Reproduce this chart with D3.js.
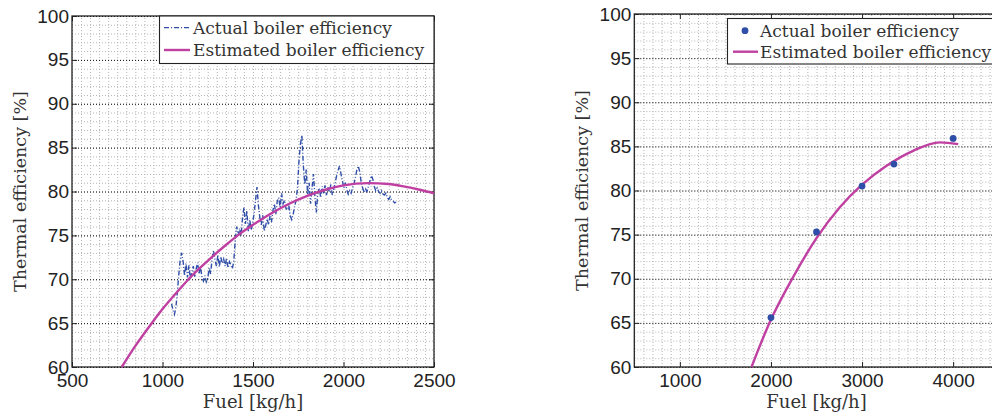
<!DOCTYPE html>
<html>
<head>
<meta charset="utf-8">
<title>Boiler efficiency</title>
<style>
body { margin: 0; background: #fff; overflow: hidden; }
svg { display: block; }
.axis text { font-family: 'Liberation Sans', Arial, sans-serif; font-size: 19px; fill: #222; }
.axis .domain { display: none; }
.axis line { stroke: #222; }
.title, .legend text { font-family: 'DejaVu Serif', serif; fill: #333; }
.minor line { stroke: #b5b5b5; stroke-dasharray: 1,2; }
.major line { stroke: #111; stroke-dasharray: 1,2; }
.grid .domain { display: none; }
</style>
<script src="https://d3js.org/d3.v7.min.js"></script>
</head>
<body>
<div id="chart"></div>
<script>
// ******* Data: left panel (measured series + fitted curve) *******
const actualFuel = [1050,1058,1066,1074,1082,1090,1098,1106,1114,1122,1130,1138,1146,1154,1162,1170,1178,1186,1194,1202,
  1210,1218,1226,1234,1242,1250,1258,1266,1274,1282,1290,1298,1306,1314,1322,1330,1338,1346,1354,1362,
  1370,1378,1386,1394,1402,1410,1418,1426,1434,1442,1450,1458,1466,1474,1482,1490,1498,1506,1514,1522,
  1530,1538,1546,1554,1562,1570,1578,1586,1594,1602,1610,1618,1626,1634,1642,1650,1658,1666,1674,1682,
  1690,1698,1706,1714,1722,1730,1738,1746,1754,1762,1770,1778,1786,1794,1802,1810,1818,1826,1834,1842,
  1850,1858,1866,1874,1882,1890,1898,1906,1914,1922,1930,1938,1946,1954,1962,1970,1978,1986,1994,2002,
  2010,2018,2026,2034,2042,2050,2058,2066,2074,2082,2090,2098,2106,2114,2122,2130,2138,2146,2154,2162,
  2170,2178,2186,2194,2202,2210,2218,2226,2234,2242,2250,2258,2266,2274,2282,2290];
const actualEff = [67.2,66.5,66.0,66.8,68.5,70.5,72.3,73.0,72.0,70.4,71.8,70.2,71.6,70.0,70.8,71.5,70.3,71.2,71.9,70.6,
  71.5,70.2,69.8,70.4,69.7,70.1,71.3,70.6,72.4,73.3,72.2,71.5,72.8,71.4,72.6,71.8,72.3,71.5,72.4,71.3,
  72.0,71.6,71.2,72.1,74.5,76.0,75.0,75.8,74.9,77.0,78.2,76.3,77.8,75.4,76.8,75.6,76.4,77.5,79.0,80.5,
  78.4,77.0,76.2,77.3,75.5,76.1,76.9,76.2,77.2,76.5,77.8,78.6,77.4,78.9,79.3,78.2,79.8,78.6,79.0,78.1,
  77.9,78.4,77.2,76.8,77.4,78.3,79.0,80.5,83.5,85.4,86.4,83.0,80.8,82.5,79.6,81.0,78.6,80.4,82.0,79.4,
  77.6,79.8,80.4,79.3,80.6,79.8,80.7,79.6,80.5,79.9,80.8,79.6,80.3,81.0,81.8,82.4,82.9,82.0,81.2,80.4,
  81.0,80.2,79.7,80.1,79.8,80.4,80.9,81.6,82.5,82.9,82.2,81.0,80.4,79.9,80.3,80.0,80.6,81.2,81.8,81.4,
  80.6,80.1,80.4,80.0,79.8,80.1,79.7,79.6,79.8,79.3,79.1,79.4,79.0,78.9,78.7,78.8];
const fitFuelL = [775,850,941,1000,1100,1153,1250,1350,1429,1500,1600,1700,1800,1900,2000,2137,2250,2339,2420,2500];
const fitEffL  = [60.0,62.4,65.0,66.6,69.0,70.2,72.1,73.9,75.2,76.2,77.5,78.6,79.5,80.2,80.7,80.95,80.85,80.55,80.2,79.8];

// ******* Data: right panel *******
const pointFuel = [2000,2500,3000,3350,4000];
const pointEff  = [65.6,75.3,80.5,83.0,85.9];
const fitFuelR = [1787,1988,2244,2500,2756,2994,3269,3561,3854,4055];
const fitEffR  = [60.0,65.1,70.2,74.6,78.1,80.6,82.8,84.5,85.45,85.25];

// ******* Ticks *******
const yTicks = [60,65,70,75,80,85,90,95,100];
const xTicksL = [500,1000,1500,2000,2500];
const xTicksR = [1000,2000,3000,4000];
const legendLabels = ["Actual boiler efficiency", "Estimated boiler efficiency"];

const blue = "#2f4ea8", magenta = "#c040a2";

const svg = d3.select("#chart").append("svg")
    .attr("width", 992)
    .attr("height", 417);

function panel(o) {
  const x = d3.scaleLinear().domain(o.xDomain).range([o.left, o.right]);
  const y = d3.scaleLinear().domain([60, 100]).range([o.bottom, o.top]);
  const g = svg.append("g");
  const w = o.right - o.left, h = o.bottom - o.top;

  // minor grid
  g.append("g").attr("class", "grid minor")
    .attr("transform", `translate(0,${o.bottom})`)
    .call(d3.axisBottom(x).tickValues(d3.range(o.xDomain[0], o.xDomain[1] + 1, o.xMinor)).tickSize(-h).tickFormat(""));
  g.append("g").attr("class", "grid minor")
    .attr("transform", `translate(${o.left},0)`)
    .call(d3.axisLeft(y).tickValues(d3.range(60, 101, 1)).tickSize(-w).tickFormat(""));
  // major horizontal grid
  g.append("g").attr("class", "grid major")
    .attr("transform", `translate(${o.left},0)`)
    .call(d3.axisLeft(y).tickValues(yTicks).tickSize(-w).tickFormat(""));

  // axes with inward ticks
  g.append("g").attr("class", "axis")
    .attr("transform", `translate(0,${o.bottom})`)
    .call(d3.axisBottom(x).tickValues(o.xTicks).tickSizeInner(-5).tickSizeOuter(0).tickPadding(7).tickFormat(d3.format("d")));
  g.append("g").attr("class", "axis")
    .attr("transform", `translate(0,${o.top})`)
    .call(d3.axisTop(x).tickValues(o.xTicks).tickSizeInner(-5).tickSizeOuter(0).tickFormat(""));
  g.append("g").attr("class", "axis")
    .attr("transform", `translate(${o.left},0)`)
    .call(d3.axisLeft(y).tickValues(yTicks).tickSizeInner(-5).tickSizeOuter(0).tickPadding(3));
  g.append("g").attr("class", "axis")
    .attr("transform", `translate(${o.right},0)`)
    .call(d3.axisRight(y).tickValues(yTicks).tickSizeInner(-5).tickSizeOuter(0).tickFormat(""));

  g.append("rect")
    .attr("x", o.left).attr("y", o.top).attr("width", w).attr("height", h)
    .attr("fill", "none").attr("stroke", "#222").attr("stroke-width", 1.3);

  // axis titles
  g.append("text").attr("class", "title")
    .attr("x", (o.left + o.right) / 2).attr("y", 408)
    .attr("text-anchor", "middle").style("font-size", "18px")
    .text("Fuel [kg/h]");
  g.append("text").attr("class", "title")
    .attr("transform", `translate(${o.left - 46},${(o.top + o.bottom) / 2}) rotate(-90)`)
    .attr("text-anchor", "middle").style("font-size", "17.5px")
    .text("Thermal efficiency [%]");

  return {g, x, y};
}

// ******* Left panel *******
const L = panel({left: 72, right: 434, top: 16, bottom: 367, xDomain: [500, 2500], xTicks: xTicksL, xMinor: 50});
const lineL = d3.line().x(d => L.x(d[0])).y(d => L.y(d[1]));
L.g.append("path")
  .attr("d", lineL(d3.zip(actualFuel, actualEff)))
  .attr("fill", "none").attr("stroke", blue).attr("stroke-width", 1.4)
  .attr("stroke-dasharray", "5,2,1,2");
L.g.append("path")
  .attr("d", lineL.curve(d3.curveMonotoneX)(d3.zip(fitFuelL, fitEffL)))
  .attr("fill", "none").attr("stroke", magenta).attr("stroke-width", 2.4);

// left legend
const legL = L.g.append("g").attr("class", "legend");
legL.append("rect").attr("x", 159.5).attr("y", 16).attr("width", 274.5).attr("height", 47.5)
  .attr("fill", "#fff").attr("stroke", "#222").attr("stroke-width", 1.1);
legL.append("line").attr("x1", 164).attr("x2", 190).attr("y1", 27.7).attr("y2", 27.7)
  .attr("stroke", blue).attr("stroke-width", 1.3).attr("stroke-dasharray", "5,2,1,2");
legL.append("line").attr("x1", 164).attr("x2", 190).attr("y1", 50).attr("y2", 50)
  .attr("stroke", magenta).attr("stroke-width", 2.4);
legL.selectAll("text").data(legendLabels).enter().append("text")
  .attr("x", 193).attr("y", (d, i) => 33.5 + i * 22.5)
  .style("font-size", "17px").text(d => d);

// ******* Right panel *******
const R = panel({left: 634.3, right: 998.7, top: 14, bottom: 367, xDomain: [500, 4500], xTicks: xTicksR, xMinor: 100});
const lineR = d3.line().x(d => R.x(d[0])).y(d => R.y(d[1])).curve(d3.curveMonotoneX);
R.g.append("path")
  .attr("d", lineR(d3.zip(fitFuelR, fitEffR)))
  .attr("fill", "none").attr("stroke", magenta).attr("stroke-width", 2.4);
R.g.selectAll("circle.pt").data(d3.zip(pointFuel, pointEff)).enter().append("circle")
  .attr("class", "pt")
  .attr("cx", d => R.x(d[0])).attr("cy", d => R.y(d[1])).attr("r", 3.4)
  .attr("fill", blue);

// right legend
const legR = R.g.append("g").attr("class", "legend");
legR.append("rect").attr("x", 727.5).attr("y", 18.5).attr("width", 271).attr("height", 45.5)
  .attr("fill", "#fff").attr("stroke", "#222").attr("stroke-width", 1.1);
legR.append("circle").attr("cx", 745).attr("cy", 30.7).attr("r", 3.4).attr("fill", blue);
legR.append("line").attr("x1", 733).attr("x2", 758).attr("y1", 51.7).attr("y2", 51.7)
  .attr("stroke", magenta).attr("stroke-width", 2.4);
legR.selectAll("text").data(legendLabels).enter().append("text")
  .attr("x", 760).attr("y", (d, i) => 36.5 + i * 21.5)
  .style("font-size", "17px").text(d => d);
</script>
</body>
</html>
